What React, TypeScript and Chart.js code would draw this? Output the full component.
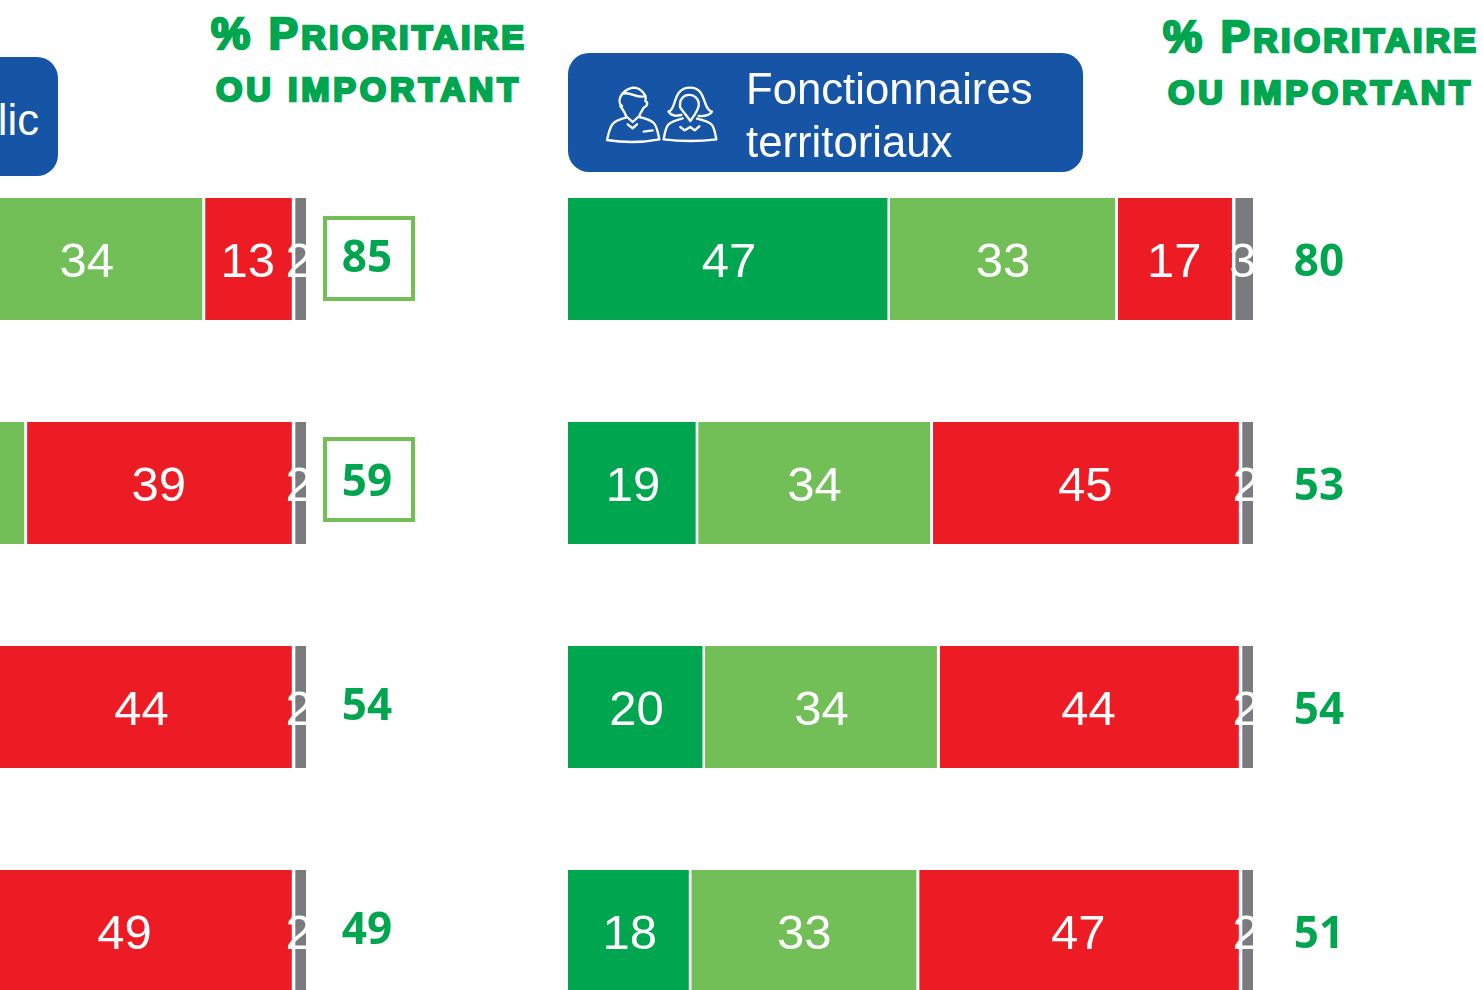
import React, { useEffect, useRef } from "react";
import { Chart, registerables } from "chart.js";

Chart.register(...registerables);

const rows = ["A", "B", "C", "D"];
const seriesNames = ["Prioritaire", "Important", "Secondaire", "NSP"];
const colors = ["#00A64F", "#72BF58", "#ED1C24", "#7A7B7E"];
const gapLeft = [0, 0, 2, 3];
const gapRight = [2.5, 1, 0.5, 0];

// Grand public (left panel, cropped by the page edge)
const publicPrioritaire = [51, 20, 15, 13];
const publicImportant = [34, 39, 39, 36];
const publicSecondaire = [13, 39, 44, 49];
const publicNsp = [2, 2, 2, 2];
const publicTotals = [85, 59, 54, 49];

// Fonctionnaires territoriaux (right panel)
const territPrioritaire = [47, 19, 20, 18];
const territImportant = [33, 34, 34, 33];
const territSecondaire = [17, 45, 44, 47];
const territNsp = [3, 2, 2, 2];
const territTotals = [80, 53, 54, 51];

const labelsPlugin = {
  id: "barTexts",
  afterDatasetsDraw(chart: any, _a: any, opts: any) {
    const ctx = chart.ctx;
    ctx.save();
    ctx.textAlign = "center";
    ctx.textBaseline = "alphabetic";
    chart.data.datasets.forEach((ds: any, i: number) => {
      chart.getDatasetMeta(i).data.forEach((el: any, j: number) => {
        ctx.fillStyle = "#FFFFFF";
        ctx.font = '49px "Liberation Sans"';
        ctx.fillText(String(ds.data[j]), (el.x + el.base) / 2, el.y + 18);
      });
    });
    const last = chart.getDatasetMeta(chart.data.datasets.length - 1).data;
    last.forEach((el: any, j: number) => {
      ctx.fillStyle = "#00A64F";
      ctx.font = 'bold 44px "Open Sans"';
      ctx.fillText(String(opts.totals[j]), el.x + opts.dx, el.y + opts.dy);
    });
    ctx.restore();
  },
};

function StackedPanel({ left, series, totals, dx, dy }: any) {
  const ref = useRef<HTMLCanvasElement>(null);
  useEffect(() => {
    const datasets = series.map((data: number[], i: number) => ({
      label: seriesNames[i],
      data,
      backgroundColor: colors[i],
      borderColor: "#FFFFFF",
      borderWidth: { top: 0, bottom: 0, left: gapLeft[i], right: gapRight[i] },
      borderSkipped: false,
      categoryPercentage: 1,
      barPercentage: 122 / 224,
    }));
    const chart = new Chart(ref.current as HTMLCanvasElement, {
      type: "bar",
      data: { labels: rows, datasets },
      plugins: [labelsPlugin],
      options: {
        indexAxis: "y",
        animation: false,
        responsive: false,
        layout: { padding: { right: 120 } },
        scales: {
          x: { stacked: true, min: 0, max: 100, display: false },
          y: { stacked: true, display: false },
        },
        plugins: {
          legend: { display: false },
          tooltip: { enabled: false },
          barTexts: { totals, dx, dy },
        },
      } as any,
    });
    return () => chart.destroy();
  }, []);
  return (
    <canvas
      ref={ref}
      width={805}
      height={896}
      style={{ position: "absolute", left, top: 147, width: 805, height: 896 }}
    />
  );
}

function Heading({ x, y }: { x: number; y: number }) {
  const style = {
    fontFamily: '"Liberation Sans"',
    fontWeight: 700,
    fill: "#00A64F",
    stroke: "#00A64F",
    strokeWidth: 2.6,
  };
  return (
    <svg width={340} height={120} style={{ position: "absolute", left: x, top: y }}>
      <text x={2} y={49} textLength={313} lengthAdjust="spacing" style={style}>
        <tspan fontSize={44}>%&nbsp;P</tspan>
        <tspan fontSize={34}>RIORITAIRE</tspan>
      </text>
      <text x={7} y={101} textLength={302} lengthAdjust="spacing" style={style} fontSize={34}>
        OU&nbsp;IMPORTANT
      </text>
    </svg>
  );
}

function People() {
  return (
    <svg
      width={130}
      height={90}
      viewBox="0 0 390 270"
      style={{ position: "absolute", left: 34, top: 27 }}
      fill="none"
      stroke="#FFFFFF"
      strokeWidth={7}
      strokeLinejoin="round"
      strokeLinecap="round"
    >
      <g transform="translate(-120,-117)">
        <path d="M180,195 C165,185 172,150 212,140 C240,140 255,165 250,180 C260,185 255,197 245,200 C240,210 235,215 232,225 L212,243 L192,225 C188,210 180,205 175,195" />
        <path d="M185,158 C205,150 225,175 250,165" />
        <path d="M192,230 C150,240 145,250 135,297 Q215,310 292,295 C282,250 285,240 232,228" />
        <path d="M197,250 L212,262 L225,250" />
        <path d="M245,272 L272,268" />
        <path d="M320,212 C345,205 330,140 385,140 C435,140 420,205 450,212 C440,228 420,225 410,225" />
        <path d="M320,212 C330,228 345,225 358,222" />
        <path d="M355,200 C345,150 415,150 410,195 C405,215 395,225 385,240 C375,225 365,215 355,200" />
        <path d="M362,232 C315,245 312,250 305,295 Q385,305 463,295 C455,250 455,245 405,233" />
        <path d="M355,258 L368,268 L385,258 L398,268 L412,256" />
      </g>
    </svg>
  );
}

const boxStyle: React.CSSProperties = {
  position: "absolute",
  background: "#1655A5",
  borderRadius: 21,
  color: "#FFFFFF",
  font: '43.7px/53px "Liberation Sans"',
  overflow: "hidden",
};

const frame = (top: number): React.CSSProperties => ({
  position: "absolute",
  left: 323,
  top,
  width: 92,
  height: 85,
  boxSizing: "border-box",
  border: "4px solid #72BF58",
});

export default function App() {
  return (
    <div style={{ position: "fixed", left: 0, top: 0, width: 1483, height: 990, overflow: "hidden", background: "#FFFFFF" }}>
      <StackedPanel left={-379} series={[publicPrioritaire, publicImportant, publicSecondaire, publicNsp]} totals={publicTotals} dx={61} dy={13} />
      <StackedPanel left={568} series={[territPrioritaire, territImportant, territSecondaire, territNsp]} totals={territTotals} dx={66} dy={17} />

      <div style={frame(216)} />
      <div style={frame(437)} />

      <div style={{ ...boxStyle, left: -300, top: 57, width: 358, height: 119 }}>
        <div style={{ position: "absolute", right: 19, top: 36, whiteSpace: "nowrap" }}>Grand public</div>
      </div>

      <div style={{ ...boxStyle, left: 568, top: 53, width: 515, height: 119 }}>
        <People />
        <div style={{ position: "absolute", left: 178, top: 9, whiteSpace: "nowrap" }}>
          Fonctionnaires
          <br />
          territoriaux
        </div>
      </div>

      <Heading x={209} y={0} />
      <Heading x={1161} y={3} />
    </div>
  );
}
